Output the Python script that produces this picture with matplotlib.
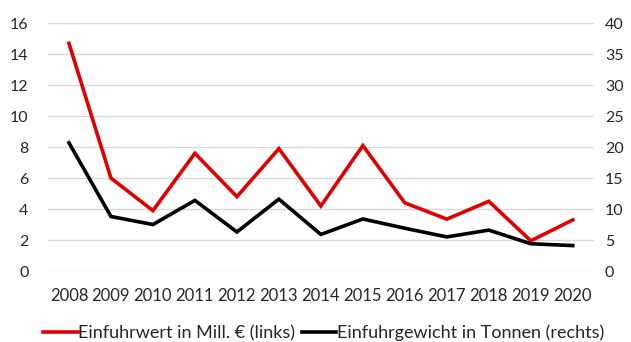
import matplotlib
matplotlib.use("Agg")
import matplotlib.pyplot as plt

years = ['2008', '2009', '2010', '2011', '2012', '2013', '2014',
         '2015', '2016', '2017', '2018', '2019', '2020']
wert = [14.7, 6.0, 3.9, 7.6, 4.8, 7.9, 4.2, 8.1, 4.4, 3.35, 4.5, 1.95, 3.3]
gewicht = [20.7, 8.8, 7.5, 11.4, 6.3, 11.6, 5.9, 8.4, 6.9, 5.5, 6.6, 4.4, 4.1]

plt.rcParams['font.family'] = ['Lato', 'DejaVu Sans']
plt.rcParams['font.size'] = 11

fig = plt.figure(figsize=(6.31, 3.42), dpi=100)
ax = fig.add_axes([0.076, 0.2076, 0.865, 0.7245])
ax2 = ax.twinx()

x = range(len(years))
l1, = ax.plot(x, wert, color='#e00000', lw=2.6, solid_joinstyle='miter',
              label='Einfuhrwert in Mill. € (links)')
l2, = ax2.plot(x, gewicht, color='black', lw=2.6, solid_joinstyle='miter',
               label='Einfuhrgewicht in Tonnen (rechts)')

ax.set_xlim(-0.5, len(years) - 0.5)
ax.set_ylim(0, 16)
ax.set_yticks(range(0, 17, 2))
ax2.set_ylim(0, 40)
ax2.set_yticks(range(0, 41, 5))
ax.set_xticks(list(x))
ax.set_xticklabels(years)

ax.grid(axis='y', color='#d9d9d9', lw=1)
ax.set_axisbelow(True)
for a in (ax, ax2):
    for s in a.spines.values():
        s.set_visible(False)
    a.tick_params(length=0, colors='#262626', labelsize=11.5)
ax.tick_params(axis='y', pad=14)
ax.tick_params(axis='x', pad=12, labelsize=12)
ax2.tick_params(axis='y', pad=8)

fig.legend(handles=[l1, l2], loc='center', bbox_to_anchor=(0.513, 0.027),
           ncol=2, frameon=False, fontsize=13, handlelength=1.9,
           handletextpad=0.05, columnspacing=0.35, labelcolor='#262626',
           borderpad=0, borderaxespad=0)

fig.savefig('out.png', dpi=100)
